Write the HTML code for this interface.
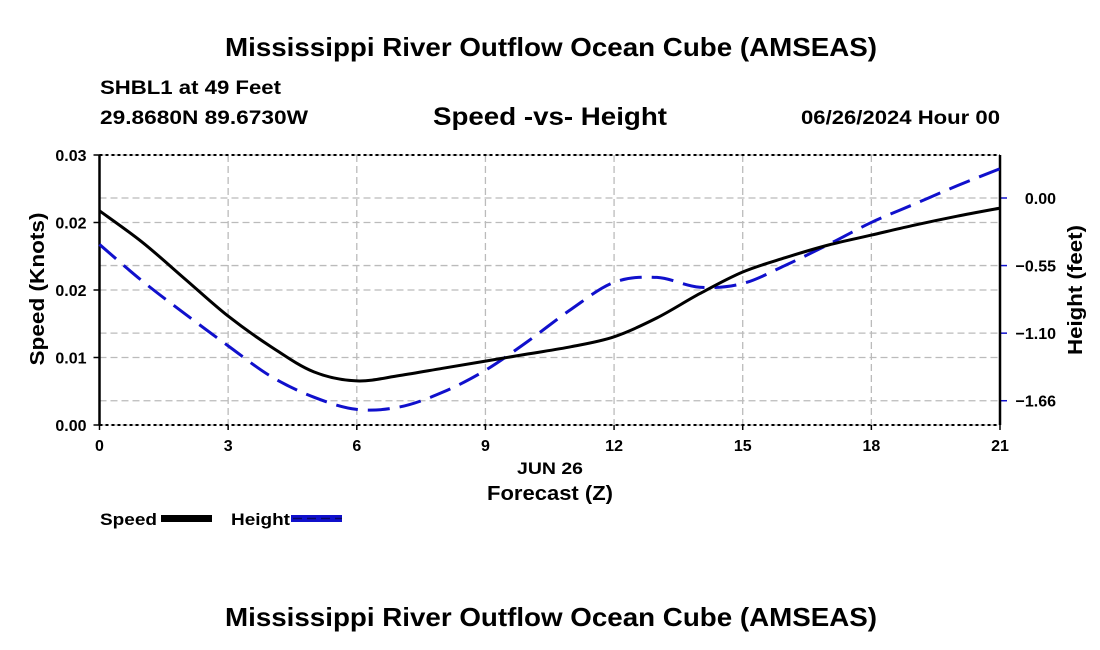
<!DOCTYPE html>
<html><head><meta charset="utf-8"><style>
html,body{margin:0;padding:0;background:#fff}
svg{display:block;font-family:"Liberation Sans",Arial,sans-serif;font-weight:bold}
</style></head><body>
<svg id="chart" width="1100" height="650" viewBox="0 0 1100 650">
<text x="225" y="56" font-size="26" textLength="652" lengthAdjust="spacingAndGlyphs">Mississippi River Outflow Ocean Cube (AMSEAS)</text>
<text x="100" y="94" font-size="19" textLength="181" lengthAdjust="spacingAndGlyphs">SHBL1 at 49 Feet</text>
<text x="100" y="124" font-size="19" textLength="208" lengthAdjust="spacingAndGlyphs">29.8680N  89.6730W</text>
<text x="433" y="125" font-size="25" textLength="234" lengthAdjust="spacingAndGlyphs">Speed -vs- Height</text>
<text x="801" y="124" font-size="19" textLength="199" lengthAdjust="spacingAndGlyphs">06/26/2024 Hour 00</text>
<g id="grid"></g>
<g id="axes"></g>
<g id="series"></g>
<text x="517" y="474" font-size="17" textLength="66" lengthAdjust="spacingAndGlyphs">JUN 26</text>
<text x="487" y="500" font-size="20" textLength="126" lengthAdjust="spacingAndGlyphs">Forecast (Z)</text>
<text transform="translate(44,289) rotate(-90)" font-size="20" text-anchor="middle" textLength="153" lengthAdjust="spacingAndGlyphs">Speed (Knots)</text>
<text transform="translate(1082,290) rotate(-90)" font-size="20" text-anchor="middle" textLength="130" lengthAdjust="spacingAndGlyphs">Height (feet)</text>
<g>
<text x="100" y="525" font-size="17" textLength="57" lengthAdjust="spacingAndGlyphs">Speed</text>
<rect x="161" y="515" width="51" height="7" fill="#000"/>
<text x="231" y="525" font-size="17" textLength="59" lengthAdjust="spacingAndGlyphs">Height</text>
<rect x="291" y="515" width="51" height="7" fill="#1010cc"/>
<line x1="293" y1="518.5" x2="342" y2="518.5" stroke="#000" stroke-width="1.5" stroke-dasharray="9,5" opacity="0.5"/>
</g>
<text x="225" y="626" font-size="26" textLength="652" lengthAdjust="spacingAndGlyphs">Mississippi River Outflow Ocean Cube (AMSEAS)</text>
</svg>
<script>
const hours = [0,1,2,3,4,5,6,7,8,9,10,11,12,13,14,15,16,17,18,19,20,21];
const speedValues = [0.0238,0.0203,0.0162,0.0121,0.0087,0.0059,0.0049,0.0055,0.0063,0.0071,0.0079,0.0087,0.0098,0.0119,0.0146,0.0170,0.0186,0.0200,0.0211,0.0222,0.0232,0.0241];
const heightValues = [-0.38,-0.68,-0.95,-1.21,-1.46,-1.63,-1.73,-1.71,-1.59,-1.41,-1.17,-0.91,-0.69,-0.65,-0.73,-0.70,-0.55,-0.38,-0.20,-0.05,0.10,0.24];
const xTicks = [0,3,6,9,12,15,18,21];
const speedTicks = [0,0.0075,0.015,0.0225,0.03];
const speedTickLabels = ["0.00","0.01","0.02","0.02","0.03"];
const heightTicks = [0,-0.553,-1.106,-1.659];
const heightTickLabels = ["0.00","\u22120.55","\u22121.10","\u22121.66"];

const NS="http://www.w3.org/2000/svg";
const L=99.5,R=1000,T=155,B=425;
const xS=h=>L+(h/21)*(R-L);
const yS=v=>B-(v/0.03)*(B-T);
const yH=v=>198-v*122.2;
function mk(tag,attrs,parent){const e=document.createElementNS(NS,tag);for(const k in attrs)e.setAttribute(k,attrs[k]);parent.appendChild(e);return e;}
const grid=document.getElementById('grid'),axes=document.getElementById('axes'),series=document.getElementById('series');
xTicks.forEach(h=>{
  const g=mk('line',{x1:xS(h),x2:xS(h),y1:T,y2:B,stroke:'#bbb','stroke-width':1.3,'stroke-dasharray':'7,4'},grid);
  
  
  const t=mk('text',{x:xS(h),y:451,'font-size':16,'text-anchor':'middle'},axes);
  t.textContent=h;
  
  
  mk('line',{x1:xS(h),x2:xS(h),y1:B,y2:B+5,stroke:'#000','stroke-width':1.5},axes);
});
speedTicks.forEach((v,i)=>{
  const g=mk('line',{x1:L,x2:R,y1:yS(v),y2:yS(v),stroke:'#bbb','stroke-width':1.3,'stroke-dasharray':'7,4'},grid);
  
  
  mk('line',{x1:L-6,x2:L,y1:yS(v),y2:yS(v),stroke:'#000','stroke-width':1.5},axes);
  const t=mk('text',{x:L-13,y:yS(v)+6,'font-size':16,'text-anchor':'end'},axes);
  t.textContent=speedTickLabels[i];
  
  
});
heightTicks.forEach((v,i)=>{
  const g=mk('line',{x1:L,x2:R,y1:yH(v),y2:yH(v),stroke:'#bbb','stroke-width':1.3,'stroke-dasharray':'7,4'},grid);
  
  
  mk('line',{x1:R,x2:R+7,y1:yH(v),y2:yH(v),stroke:'#1010cc','stroke-width':1.5},axes);
  const t=mk('text',{x:1056,y:yH(v)+6,'font-size':16,'text-anchor':'end'},axes);
  t.textContent=heightTickLabels[i];
  
  
});
mk('line',{x1:L,x2:R,y1:T,y2:T,stroke:'#000','stroke-width':2,'stroke-dasharray':'3,3'},axes);
mk('line',{x1:L,x2:R,y1:B,y2:B,stroke:'#000','stroke-width':2,'stroke-dasharray':'3,3'},axes);
mk('line',{x1:L,x2:L,y1:T,y2:B,stroke:'#000','stroke-width':2.5},axes);
mk('line',{x1:R,x2:R,y1:T,y2:B,stroke:'#000','stroke-width':2.5},axes);
function smooth(pts){let d=`M${pts[0][0]},${pts[0][1]}`;for(let i=0;i<pts.length-1;i++){const p0=pts[i-1]||pts[i],p1=pts[i],p2=pts[i+1],p3=pts[i+2]||p2;d+=` C${p1[0]+(p2[0]-p0[0])/6},${p1[1]+(p2[1]-p0[1])/6} ${p2[0]-(p3[0]-p1[0])/6},${p2[1]-(p3[1]-p1[1])/6} ${p2[0]},${p2[1]}`;}return d;}
const hp=mk('path',{d:smooth(hours.map((h,i)=>[xS(h),yH(heightValues[i])])),fill:'none',stroke:'#1010cc','stroke-width':3,'stroke-dasharray':'22,10'},series);


const sp=mk('path',{d:smooth(hours.map((h,i)=>[xS(h),yS(speedValues[i])])),fill:'none',stroke:'#000','stroke-width':3},series);


</script>
</body></html>
